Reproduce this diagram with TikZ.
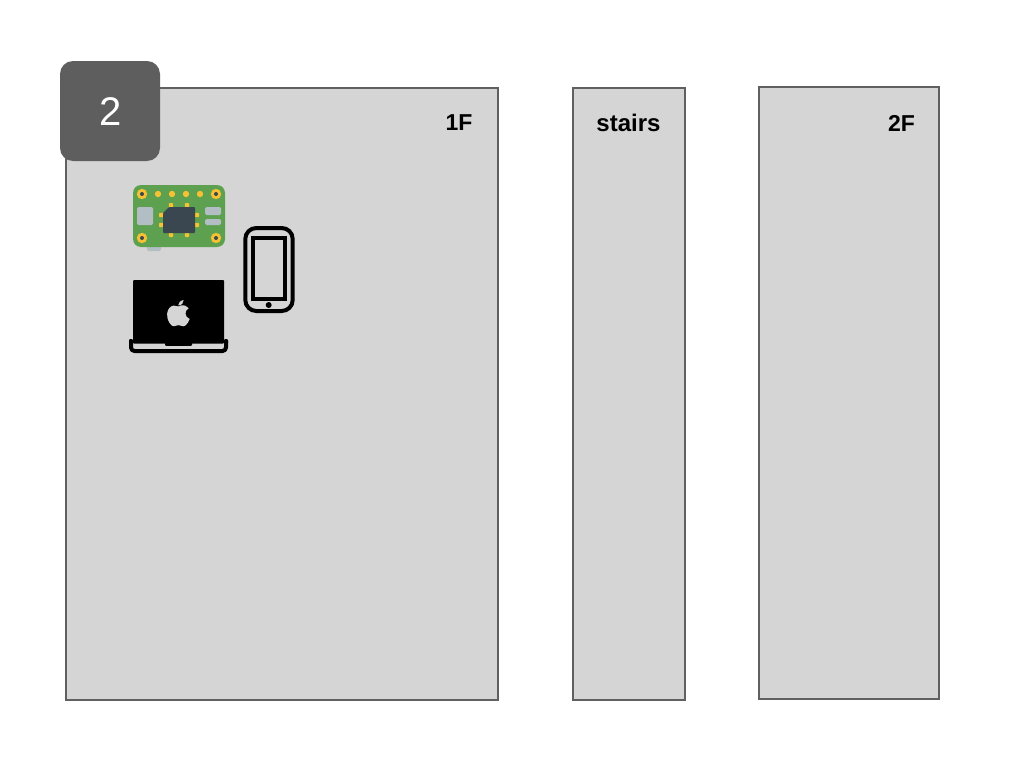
\documentclass[tikz,border=0pt]{standalone}
\usepackage{fontspec}
\setmainfont{Liberation Sans}
\definecolor{roomfill}{HTML}{D5D5D5}
\definecolor{roomline}{HTML}{606060}
\definecolor{badge}{HTML}{5E5E5E}
\definecolor{pcb}{HTML}{5DA04F}
\definecolor{pad}{HTML}{F6C132}
\definecolor{chip}{HTML}{3A4650}
\definecolor{metal}{HTML}{B3BEC4}
\tikzset{
  room/.style={fill=roomfill,draw=roomline,line width=1.6pt},
  roomlabel/.style={font=\fontsize{23}{26}\selectfont\bfseries,text=black,inner sep=0pt,anchor=center},
  badgebox/.style={fill=badge,rounded corners=13pt},
  hole/.style={fill=pad},
  pin/.style={fill=pad,rounded corners=0.8pt},
  metalpart/.style={fill=metal,rounded corners=1.5pt},
}
\begin{document}
\begin{tikzpicture}[x=1pt,y=-1pt]
\useasboundingbox (0,0) rectangle (1024,768);
\fill[white] (0,0) rectangle (1024,768);
% rooms
\draw[room] (66,88) rectangle (498,700);
\draw[room] (573,88) rectangle (685,700);
\draw[room] (759,87) rectangle (939,699);
\node[roomlabel] (l1f) at (459,123) {1F};
\node[roomlabel,font=\fontsize{24}{26}\selectfont\bfseries] (lst) at (628.5,123) {stairs};
\node[roomlabel] (l2f) at (901.5,123) {2F};
% badge
\fill[badgebox] (60,61) rectangle (160,161);
\node[font=\fontsize{40}{46}\selectfont,text=white,inner sep=0pt] (num) at (110.5,112) {2};
% board
\fill[metalpart] (147,244) rectangle (161,251);
\fill[pcb,rounded corners=8pt] (133,185) rectangle (225,247);
\foreach \x/\y in {142/194,216/194,142/238,216/238}{
  \fill[hole] (\x,\y) circle[radius=5.2];
  \fill[chip] (\x,\y) circle[radius=2];
}
\foreach \x in {158,172,186,200} \fill[pad] (\x,194) circle[radius=3.2];
\fill[metalpart] (137,207) rectangle (153,225);
\fill[metalpart] (205,207) rectangle (221,215);
\fill[metalpart] (205,219) rectangle (221,225);
\foreach \x in {171,187}{
  \fill[pin] (\x-2.2,203) rectangle (\x+2.2,209);
  \fill[pin] (\x-2.2,231) rectangle (\x+2.2,237);
}
\foreach \y in {215,225}{
  \fill[pin] (159,\y-2.2) rectangle (165,\y+2.2);
  \fill[pin] (193,\y-2.2) rectangle (199,\y+2.2);
}
\fill[chip,rounded corners=1pt] (169,207) -- (195,207) -- (195,233) -- (163,233) -- (163,213) -- cycle;
% phone
\draw[black,line width=4pt,rounded corners=11pt] (245.3,228) rectangle (292.7,311);
\draw[black,line width=4pt] (253,237.7) rectangle (284.7,299.3);
\fill[black] (268.7,305) circle[radius=3];
% laptop
\fill[black,rounded corners=1pt] (133,280) rectangle (224,343.5);
\fill[black,rounded corners=1pt] (165,340) rectangle (192,345.8);
\draw[black,line width=4pt,line join=round,rounded corners=3.5pt]
  (131,341) -- (131,351) -- (226,351) -- (226,341);
\fill[black,rounded corners=1pt] (129,339) rectangle (133,344);
\fill[black,rounded corners=1pt] (224,339) rectangle (228,344);
% apple logo
\fill[roomfill]
  (178.4,306.4) .. controls (180,305.2) and (183,304.8) .. (185.2,305.6)
  .. controls (186.6,306) and (187.8,306.9) .. (188.7,308.2)
  .. controls (186.4,309.5) and (185.3,311.4) .. (185.5,313.8)
  .. controls (185.7,316.2) and (187.2,317.9) .. (189.7,318.9)
  .. controls (188.8,321.5) and (187.4,324) .. (185.4,325.6)
  .. controls (184,326.6) and (182.5,326.4) .. (181,325.7)
  .. controls (179.3,325) and (177.5,325) .. (175.8,325.7)
  .. controls (174.2,326.4) and (172.8,326.6) .. (171.6,325.4)
  .. controls (168.6,322.6) and (166.8,318.4) .. (167.2,313.6)
  .. controls (167.5,309.6) and (170,306) .. (173.6,305.6)
  .. controls (175.4,305.4) and (176.8,305.9) .. (178.4,306.4) -- cycle;
\fill[roomfill]
  (178.2,305.4) .. controls (178,302.8) and (180.4,300.6) .. (183.6,300)
  .. controls (184,303) and (181.4,305.4) .. (178.2,305.4) -- cycle;
\end{tikzpicture}
\end{document}
